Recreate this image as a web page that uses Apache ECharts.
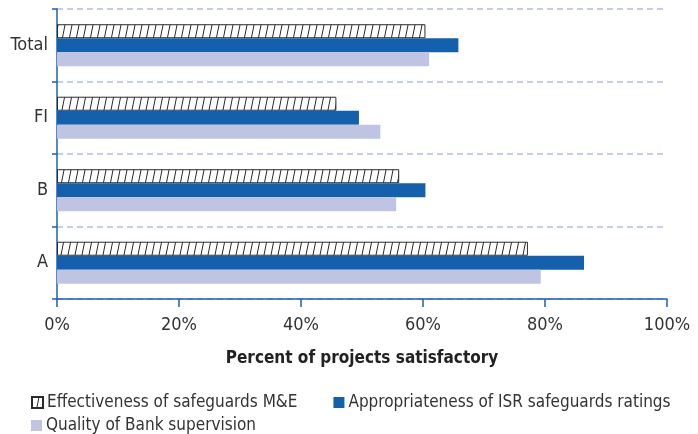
<!DOCTYPE html>
<html>
<head>
<meta charset="utf-8">
<script src="https://cdn.jsdelivr.net/npm/echarts@6/dist/echarts.min.js"></script>
<style>
  html, body { margin: 0; padding: 0; background: #fff; }
  #chart { width: 698px; height: 434px; }
</style>
</head>
<body>
<div id="chart"></div>
<script>
var categories = ['A', 'B', 'FI', 'Total'];
var seriesNames = [
  'Effectiveness of safeguards M&E',
  'Appropriateness of ISR safeguards ratings',
  'Quality of Bank supervision'
];
var mneValues = [77.2, 56.1, 45.8, 60.4];
var isrValues = [86.4, 60.4, 49.5, 65.8];
var supervisionValues = [79.3, 55.6, 53.0, 61.0];
var tickLabels = ['0%', '20%', '40%', '60%', '80%', '100%'];

var FONT = '"Liberation Sans Narrow", "DejaVu Sans Condensed", sans-serif';
var AXIS_BLUE = '#1f5fb5';

// diagonal hatch for the M&E bars
function makeHatch() {
  var w = 7, h = 35;
  var c = document.createElement('canvas');
  c.width = w; c.height = h;
  var ctx = c.getContext('2d');
  ctx.fillStyle = '#fff';
  ctx.fillRect(0, 0, w, h);
  ctx.strokeStyle = '#2a2a2a';
  ctx.lineWidth = 1;
  [-w, 0, w].forEach(function (dx) {
    ctx.beginPath();
    ctx.moveTo(dx, h);
    ctx.lineTo(dx + w, 0);
    ctx.stroke();
  });
  return c;
}
var hatch = { image: makeHatch(), repeat: 'repeat' };

var myChart = echarts.init(document.getElementById('chart'), null, { renderer: 'canvas' });

var option = {
  animation: false,
  textStyle: { fontFamily: FONT },
  grid: { left: 57, right: 31, top: 9, bottom: 135 },
  xAxis: {
    type: 'value',
    min: 0, max: 100, interval: 20,
    name: 'Percent of projects satisfactory',
    nameLocation: 'middle',
    nameGap: 51,
    nameTextStyle: { fontFamily: FONT, fontWeight: 'bold', fontSize: 17, color: '#222' },
    axisLine: { show: true, lineStyle: { color: AXIS_BLUE, width: 1.5 } },
    axisTick: { show: true, length: 8, lineStyle: { color: AXIS_BLUE, width: 1.5 } },
    axisLabel: {
      margin: 17, fontSize: 18, color: '#333', fontFamily: FONT,
      formatter: function (v) { return tickLabels[Math.round(v / 20)]; }
    },
    splitLine: { show: false }
  },
  yAxis: {
    type: 'category',
    data: categories,
    axisLine: { show: true, lineStyle: { color: AXIS_BLUE, width: 1.5 } },
    axisTick: { show: true, length: 5, lineStyle: { color: AXIS_BLUE, width: 1.5 } },
    axisLabel: { margin: 9, fontSize: 18, color: '#333', fontFamily: FONT },
    splitLine: { show: true, lineStyle: { color: '#b4bde0', type: [6, 4], width: 1.5 } }
  },
  legend: [
    {
      data: [seriesNames[0], seriesNames[1]],
      left: 26, top: 389,
      itemWidth: 11, itemHeight: 11, itemGap: 36,
      icon: 'rect',
      textStyle: { fontSize: 17, color: '#333', fontFamily: FONT, padding: [0, 0, 0, -1] }
    },
    {
      data: [seriesNames[2]],
      left: 26, top: 412,
      itemWidth: 11, itemHeight: 11,
      icon: 'rect',
      textStyle: { fontSize: 17, color: '#333', fontFamily: FONT, padding: [0, 0, 0, -1] }
    }
  ],
  series: [
    {
      name: seriesNames[0], type: 'bar', data: mneValues,
      barGap: '0%', barCategoryGap: '42%',
      itemStyle: { color: hatch, borderColor: '#2a2a2a', borderWidth: 1 }
    },
    {
      name: seriesNames[1], type: 'bar', data: isrValues,
      barGap: '0%', barCategoryGap: '42%',
      itemStyle: { color: '#1560ac' }
    },
    {
      name: seriesNames[2], type: 'bar', data: supervisionValues,
      barGap: '0%', barCategoryGap: '42%',
      itemStyle: { color: '#bec4e2' }
    }
  ]
};
option && myChart.setOption(option);
</script>
</body>
</html>
